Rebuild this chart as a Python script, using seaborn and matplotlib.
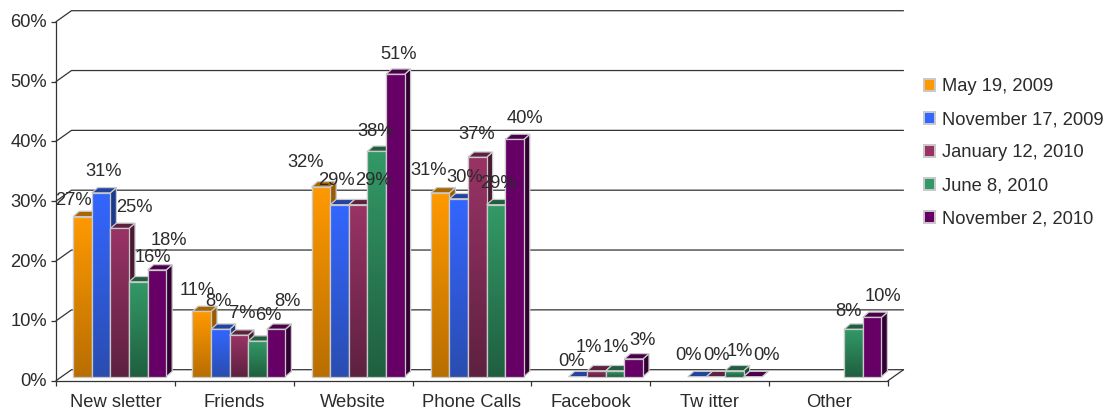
import numpy as np
import pandas as pd
import matplotlib
matplotlib.use("Agg")
import matplotlib.pyplot as plt
import seaborn as sns
from matplotlib.colors import LinearSegmentedColormap
from matplotlib.patches import Polygon, Patch
from matplotlib.lines import Line2D
from matplotlib.transforms import Affine2D, IdentityTransform

categories = ["New sletter", "Friends", "Website", "Phone Calls", "Facebook", "Tw itter", "Other"]
series_names = ["May 19, 2009", "November 17, 2009", "January 12, 2010", "June 8, 2010", "November 2, 2010"]
may_2009 = [27, 11, 32, 31, np.nan, np.nan, np.nan]
nov_2009 = [31, 8, 29, 30, 0, 0, np.nan]
jan_2010 = [25, 7, 29, 37, 1, 0, np.nan]
jun_2010 = [16, 6, 38, 29, 1, 1, 8]
nov_2010 = [18, 8, 51, 40, 3, 0, 10]
series_values = [may_2009, nov_2009, jan_2010, jun_2010, nov_2010]
y_ticks = [0, 10, 20, 30, 40, 50, 60]

# colours: top of gradient, bottom of gradient, dark side, top face
top_colors = ["#FF9900", "#3366FF", "#993366", "#339966", "#660066"]
bottom_colors = ["#B86E00", "#2A4DB0", "#5E2140", "#1F5F40", "#660066"]
side_colors = ["#9A5C00", "#1C3A8C", "#4A1A34", "#174A30", "#330033"]
roof_colors = ["#A86500", "#2343A0", "#5E2140", "#1F5F40", "#4C004C"]
edge_color = "#C9C9C9"
text_color = "#2B2B2B"
line_color = "#333333"
FS = 13.2

# label nudges in pixels, [series][category]
label_dx = [[-8.6, -4.3, -15, -11.2, 0, 0, 0],
            [2.9, -2.3, -3.5, 6.3, -6.9, -9, 0],
            [14.3, 3.6, 14.9, -0.3, -7.5, 1.3, 0],
            [14.8, 10.6, -1.6, 2.2, 1, 5.3, -5.4],
            [12.3, 11.1, 2.9, 10.7, 8.5, 13.3, 11.1]]
label_dy = [[16, 20.5, 24, 22, 0, 0, 0],
            [21, 27.3, 24, 21, 15.7, 21.7, 0],
            [21, 22, 24, 22.5, 22.8, 21.7, 0],
            [24.5, 25.3, 19.6, 21, 22.8, 18.8, 17.3],
            [29.6, 27.3, 20, 20.7, 18.2, 21.7, 20.5]]

W, H = 1107, 411
sns.set_theme(style="white")
plt.rcParams["font.family"] = ["Liberation Sans", "DejaVu Sans"]
plt.rcParams["font.size"] = FS

df = pd.DataFrame({
    "category": np.repeat(categories, len(series_names)),
    "series": series_names * len(categories),
    "value": np.array(series_values).T.ravel(),
})

fig = plt.figure(figsize=(W / 100, H / 100), dpi=100, facecolor="white")


def rect(left, bottom_px, width, height):
    return [left / W, (H - bottom_px) / H, width / W, height / H]


# wall axes: axis lines, ticks and receding grid
wall = fig.add_axes(rect(56, 380.7, 832, 359), zorder=1)
wall.set_xlim(-0.5, 6.5)
wall.set_ylim(0, 60)
wall.set_facecolor("none")
for s in ["top", "right"]:
    wall.spines[s].set_visible(False)
for s in ["left", "bottom"]:
    wall.spines[s].set_color(line_color)
    wall.spines[s].set_linewidth(0.9)
wall.set_yticks(y_ticks)
wall.set_yticklabels([f"{v}%" for v in y_ticks], fontsize=FS, color=text_color)
wall.set_xticks(np.arange(-0.5, 7.0, 1))
wall.set_xticklabels([])
wall.tick_params(axis="both", which="major", left=True, bottom=True, length=3.5, width=0.9, color=line_color)
wall.tick_params(axis="y", pad=3)
nudge = Affine2D().translate(0, 1)
for label in wall.get_yticklabels():
    label.set_transform(label.get_transform() + nudge)
for i, c in enumerate(categories):
    wall.text(i, 0, c, ha="center", va="center", fontsize=FS, color=text_color,
              transform=wall.transData + Affine2D().translate(0, -21.5))

ddx, ddy = 15.5, 11
for v in y_ticks:
    x0, y0 = wall.transData.transform((-0.5, v))
    x1, y1 = wall.transData.transform((6.5, v))
    wall.add_line(Line2D([x0, x0 + ddx, x1 + ddx], [y0, y0 + ddy, y1 + ddy], color=line_color, lw=0.9,
                         transform=IdentityTransform(), clip_on=False, zorder=0.5))
x1, y1 = wall.transData.transform((6.5, 0))
wall.add_line(Line2D([x1, x1 + ddx], [y1, y1 + ddy], color=line_color, lw=0.9,
                     transform=IdentityTransform(), clip_on=False, zorder=0.5))

# bar axes: same category spacing, shifted part-way into the depth
ax = fig.add_axes(rect(60.1, 376.7, 834.4, 355.8), zorder=2)
ax.set_facecolor("none")
sns.barplot(data=df, x="category", y="value", hue="series", order=categories, hue_order=series_names,
            palette=top_colors, width=0.78, gap=0, errorbar=None, legend=False, ax=ax,
            edgecolor=edge_color, linewidth=0.9)
ax.set_xlim(-0.5, 6.5)
ax.set_ylim(0, 60)
ax.axis("off")

bx, by = 6, 5.3
fig.canvas.draw()
for j, container in enumerate(ax.containers):
    cmap = LinearSegmentedColormap.from_list(f"g{j}", [top_colors[j], bottom_colors[j]])
    grad = np.linspace(0, 1, 128).reshape(-1, 1)
    for bar in container:
        h = bar.get_height()
        if not np.isfinite(h) or bar.get_width() == 0:
            continue
        x = bar.get_x()
        w = bar.get_width()
        i = int(round(x + w / 2))
        z = 3 + j + i * 10
        bar.set_zorder(z)
        (px0, py0), (px1, py1) = ax.transData.transform([(x, 0), (x + w, h)])
        side = Polygon([(px1, py0), (px1 + bx, py0 + by), (px1 + bx, py1 + by), (px1, py1)], closed=True,
                       facecolor=side_colors[j], edgecolor=edge_color, lw=0.9,
                       transform=IdentityTransform(), zorder=z, clip_on=False)
        roof = Polygon([(px0, py1), (px0 + bx, py1 + by), (px1 + bx, py1 + by), (px1, py1)], closed=True,
                       facecolor=roof_colors[j], edgecolor=edge_color, lw=0.9,
                       transform=IdentityTransform(), zorder=z, clip_on=False)
        ax.add_patch(side)
        ax.add_patch(roof)
        if h > 0:
            im = ax.imshow(grad, cmap=cmap, extent=(x, x + w, 0, h), aspect="auto", origin="upper",
                           zorder=z + 0.1, clip_on=True)
            im.set_clip_path(bar)
            edge = Polygon([(x, 0), (x + w, 0), (x + w, h), (x, h)], closed=True, fill=False,
                           edgecolor=edge_color, lw=0.9, zorder=z + 0.2, clip_on=False)
            ax.add_patch(edge)
        val = series_values[j][i]
        ax.annotate(f"{val:.0f}%", xy=(x + w / 2, h), xytext=(label_dx[j][i] * 0.72, label_dy[j][i] * 0.72),
                    textcoords="offset points", ha="center", va="center", fontsize=FS,
                    color=text_color, zorder=200, annotation_clip=False)
ax.set_xlim(-0.5, 6.5)
ax.set_ylim(0, 60)

handles = [Patch(facecolor=top_colors[j], edgecolor=edge_color, linewidth=1.4, label=series_names[j])
           for j in range(len(series_names))]
leg = fig.legend(handles=handles, loc="upper left", bbox_to_anchor=(920 / W, 1 - 74.5 / H), frameon=False,
                 fontsize=FS, labelcolor=text_color, handlelength=0.6, handleheight=0.6, handletextpad=0.38,
                 labelspacing=0.88, borderpad=0.2, borderaxespad=0)

fig.savefig("out.png", dpi=100, facecolor="white")
